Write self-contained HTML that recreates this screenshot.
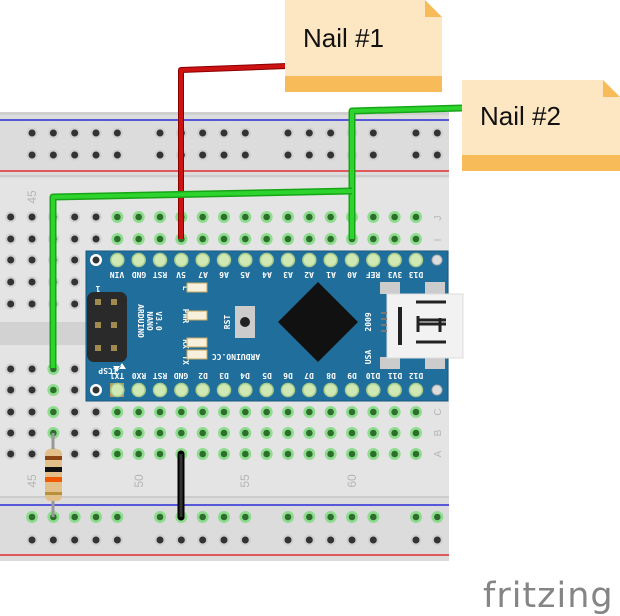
<!DOCTYPE html>
<html><head><meta charset="utf-8"><style>
html,body{margin:0;padding:0;background:#fff;width:620px;height:616px;overflow:hidden}
svg{display:block}
.pl{font-family:"DejaVu Sans Mono","Liberation Mono",monospace;font-size:8px;fill:#fff;font-weight:bold}
</style></head><body>
<svg id="s" width="620" height="616" viewBox="0 0 620 616" xmlns="http://www.w3.org/2000/svg">
<rect x="0" y="112" width="449" height="449" fill="#dcdcdc"/>
<rect x="0" y="112" width="449" height="3" fill="#cfcfcf"/>
<line x1="0" y1="120" x2="449" y2="120" stroke="#2b2bd8" stroke-width="1.5"/>
<line x1="0" y1="171" x2="449" y2="171" stroke="#e03030" stroke-width="1.5"/>
<line x1="0" y1="176" x2="449" y2="176" stroke="#bdbdbd" stroke-width="1"/>
<rect x="0" y="178" width="449" height="318" fill="#e4e4e4"/>
<rect x="0" y="322" width="449" height="23" fill="#d2d2d2"/>
<line x1="0" y1="497" x2="449" y2="497" stroke="#bdbdbd" stroke-width="1"/>
<line x1="0" y1="505" x2="449" y2="505" stroke="#2b2bd8" stroke-width="1.5"/>
<line x1="0" y1="555" x2="449" y2="555" stroke="#e03030" stroke-width="1.5"/>
<g id="holes"></g>
<g font-family="Liberation Sans,sans-serif" font-size="12" fill="#b5b5b5">
<text transform="translate(36,197) rotate(-90)" text-anchor="middle">45</text>
<text transform="translate(36,481) rotate(-90)" text-anchor="middle">45</text>
<text transform="translate(143,481) rotate(-90)" text-anchor="middle">50</text>
<text transform="translate(249,481) rotate(-90)" text-anchor="middle">55</text>
<text transform="translate(356,481) rotate(-90)" text-anchor="middle">60</text>
<text transform="translate(441,218) rotate(-90)" text-anchor="middle" font-size="10">J</text>
<text transform="translate(441,240) rotate(-90)" text-anchor="middle" font-size="10">I</text>
<text transform="translate(441,412) rotate(-90)" text-anchor="middle" font-size="10">C</text>
<text transform="translate(441,433) rotate(-90)" text-anchor="middle" font-size="10">B</text>
<text transform="translate(441,454) rotate(-90)" text-anchor="middle" font-size="10">A</text>
</g>
<rect x="86" y="251" width="362" height="150" fill="#1f6e9c"/>
<rect x="86" y="251" width="362" height="150" fill="none" stroke="#18597f" stroke-width="1"/>
<circle cx="96" cy="260" r="6" fill="#fff"/><circle cx="96" cy="260" r="3.5" fill="#333"/>
<circle cx="96" cy="390" r="6" fill="#fff"/><circle cx="96" cy="390" r="3.5" fill="#333"/>
<circle cx="437" cy="260" r="5" fill="#ddd" stroke="#aaa"/>
<circle cx="437" cy="390" r="5" fill="#ddd" stroke="#aaa"/>
<rect x="110" y="383" width="14" height="14" fill="#b59a60"/>
<g id="pins"></g>
<g class="pl" text-anchor="middle">
<g transform="rotate(180 117 275)"><text x="117" y="278">VIN</text></g>
<g transform="rotate(180 139 275)"><text x="139" y="278">GND</text></g>
<g transform="rotate(180 160 275)"><text x="160" y="278">RST</text></g>
<g transform="rotate(180 181 275)"><text x="181" y="278">5V</text></g>
<g transform="rotate(180 203 275)"><text x="203" y="278">A7</text></g>
<g transform="rotate(180 224 275)"><text x="224" y="278">A6</text></g>
<g transform="rotate(180 245 275)"><text x="245" y="278">A5</text></g>
<g transform="rotate(180 267 275)"><text x="267" y="278">A4</text></g>
<g transform="rotate(180 288 275)"><text x="288" y="278">A3</text></g>
<g transform="rotate(180 309 275)"><text x="309" y="278">A2</text></g>
<g transform="rotate(180 331 275)"><text x="331" y="278">A1</text></g>
<g transform="rotate(180 352 275)"><text x="352" y="278">A0</text></g>
<g transform="rotate(180 373 275)"><text x="373" y="278">REF</text></g>
<g transform="rotate(180 395 275)"><text x="395" y="278">3V3</text></g>
<g transform="rotate(180 416 275)"><text x="416" y="278">D13</text></g>
<g transform="rotate(180 117 376)"><text x="117" y="379">TX1</text></g>
<g transform="rotate(180 139 376)"><text x="139" y="379">RX0</text></g>
<g transform="rotate(180 160 376)"><text x="160" y="379">RST</text></g>
<g transform="rotate(180 181 376)"><text x="181" y="379">GND</text></g>
<g transform="rotate(180 203 376)"><text x="203" y="379">D2</text></g>
<g transform="rotate(180 224 376)"><text x="224" y="379">D3</text></g>
<g transform="rotate(180 245 376)"><text x="245" y="379">D4</text></g>
<g transform="rotate(180 267 376)"><text x="267" y="379">D5</text></g>
<g transform="rotate(180 288 376)"><text x="288" y="379">D6</text></g>
<g transform="rotate(180 309 376)"><text x="309" y="379">D7</text></g>
<g transform="rotate(180 331 376)"><text x="331" y="379">D8</text></g>
<g transform="rotate(180 352 376)"><text x="352" y="379">D9</text></g>
<g transform="rotate(180 373 376)"><text x="373" y="379">D10</text></g>
<g transform="rotate(180 395 376)"><text x="395" y="379">D11</text></g>
<g transform="rotate(180 416 376)"><text x="416" y="379">D12</text></g>
</g>
<rect x="87" y="292" width="40" height="70" rx="7" fill="#2a2a2a"/>
<g fill="#a08a50"><rect x="95" y="299" width="6" height="6"/><rect x="111" y="299" width="6" height="6"/><rect x="95" y="322" width="6" height="6"/><rect x="111" y="322" width="6" height="6"/><rect x="95" y="345" width="6" height="6"/><rect x="111" y="345" width="6" height="6"/></g>
<g class="pl" font-size="8">
<text transform="translate(138,321) rotate(90)" text-anchor="middle">ARDUINO</text>
<text transform="translate(147,321) rotate(90)" text-anchor="middle">NANO</text>
<text transform="translate(156,321) rotate(90)" text-anchor="middle">V3.0</text>
<text transform="translate(108,368) rotate(180)" text-anchor="middle">ICSP</text>
<text transform="translate(98,286) rotate(180)" text-anchor="middle">1</text>
<text transform="translate(183,288) rotate(90)" text-anchor="middle">L</text>
<text transform="translate(183,316) rotate(90)" text-anchor="middle">PWR</text>
<text transform="translate(183,344) rotate(90)" text-anchor="middle">RX</text>
<text transform="translate(183,360) rotate(90)" text-anchor="middle">TX</text>
<text transform="translate(230,322) rotate(-90)" text-anchor="middle">RST</text>
<text transform="translate(236,354) rotate(180)" text-anchor="middle">ARDUINO.CC</text>
<text transform="translate(371,322) rotate(-90)" text-anchor="middle">2009</text>
<text transform="translate(371,357) rotate(-90)" text-anchor="middle">USA</text>
</g>
<path d="M118 369 l4 -6 l4 6z M113 366 l4 6 l4 -6z" fill="#fff"/>
<g fill="#f6f0dc" stroke="#c9a860" stroke-width="1"><rect x="187" y="283" width="20" height="9"/><rect x="187" y="311" width="20" height="9"/><rect x="187" y="338" width="20" height="9"/><rect x="187" y="350" width="20" height="9"/></g>
<rect x="235" y="306" width="20" height="32" fill="#ccc"/><circle cx="245" cy="322" r="5" fill="#222"/>
<polygon points="318,282 358,322 318,362 278,322" fill="#111"/>
<rect x="380" y="282" width="20" height="12" fill="#ccc"/><rect x="425" y="282" width="20" height="12" fill="#ccc"/>
<rect x="380" y="357" width="20" height="12" fill="#ccc"/><rect x="425" y="357" width="20" height="12" fill="#ccc"/>
<rect x="387" y="294" width="76" height="64" fill="#f2f2f2" stroke="#ddd"/>
<rect x="398" y="307" width="4" height="38" fill="#222"/>
<path d="M416 302 h30 M416 342 h30 M418 320 h28 M418 324 h28 M418 316 v16 M440 318 v14" stroke="#222" stroke-width="3" fill="none"/>
<g fill="#777"><rect x="381" y="312" width="6" height="2"/><rect x="381" y="318" width="6" height="2"/><rect x="381" y="324" width="6" height="2"/><rect x="381" y="330" width="6" height="2"/></g>
<polyline points="181,239 181,70 287,66" fill="none" stroke="#8a0000" stroke-width="6" stroke-linejoin="round"/>
<polyline points="181,239 181,70 287,66" fill="none" stroke="#cc1212" stroke-width="4" stroke-linejoin="round"/>
<polyline points="352,239 352,111 462,108" fill="none" stroke="#17a517" stroke-width="7" stroke-linejoin="round"/>
<polyline points="352,239 352,111 462,108" fill="none" stroke="#2dd42d" stroke-width="4" stroke-linejoin="round"/>
<polyline points="53,368 53,197 352,191" fill="none" stroke="#17a517" stroke-width="7" stroke-linejoin="round"/>
<polyline points="53,368 53,197 352,191" fill="none" stroke="#2dd42d" stroke-width="4" stroke-linejoin="round"/>
<line x1="181" y1="454" x2="181" y2="517" stroke="#000" stroke-width="7" stroke-linecap="round"/>
<line x1="181" y1="454" x2="181" y2="517" stroke="#333" stroke-width="3"/>
<line x1="53" y1="433" x2="53" y2="517" stroke="#999" stroke-width="3"/>
<rect x="45" y="449" width="17" height="52" rx="5" fill="#e3c08a"/>
<rect x="45" y="456" width="17" height="4" fill="#8b4513"/>
<rect x="45" y="467" width="17" height="5" fill="#111"/>
<rect x="45" y="477" width="17" height="5" fill="#f05a00"/>
<rect x="45" y="492" width="17" height="3" fill="#b8903a"/>
<path d="M285 0 H425 L442 17 V92 H285Z" fill="#fde6c2"/>
<rect x="285" y="76" width="157" height="16" fill="#f8bb5a"/>
<path d="M425 0 L442 17 H425Z" fill="#f8bb5a"/>
<text x="303" y="47" font-family="Liberation Sans,sans-serif" font-size="26" fill="#111">Nail #1</text>
<path d="M462 80 H603 L620 97 V171 H462Z" fill="#fde6c2"/>
<rect x="462" y="155" width="158" height="16" fill="#f8bb5a"/>
<path d="M603 80 L620 97 H603Z" fill="#f8bb5a"/>
<text x="480" y="125" font-family="Liberation Sans,sans-serif" font-size="26" fill="#111">Nail #2</text>
<text x="483" y="607" font-family="DejaVu Sans,Liberation Sans,sans-serif" font-size="35" fill="#858585" letter-spacing="1">fritzing</text>
</svg>
<script>
var ns="http://www.w3.org/2000/svg",H=document.getElementById("holes"),P=document.getElementById("pins");
function c(g,x,y,r,f,st){var e=document.createElementNS(ns,"circle");e.setAttribute("cx",x);e.setAttribute("cy",y);e.setAttribute("r",r);e.setAttribute("fill",f);if(st){e.setAttribute("stroke",st);e.setAttribute("stroke-width",1.5);}g.appendChild(e);}
function hole(x,y,g){if(g){c(H,x,y,6,"#8fdc8f");c(H,x,y,3.3,"#2d6e2d");}else{c(H,x,y,5.5,"#cfcfcf");c(H,x,y,3.5,"#333");}}
function X(k){return 10.7+21.33*k;}
for(var k=0;k<21;k++){if(k%6==0)continue;var x=X(k);
 hole(x,133,0);hole(x,155,0);
 hole(x,517,1);hole(x,540,0);}
var rows=[217,239,260,282,304,369,390,412,433,454];
for(var k=0;k<20;k++){var x=X(k);for(var i=0;i<rows.length;i++){var y=rows[i];
 var g=false;
 if(k>=5&&(y<=239||y>=412))g=true;
 if(k==2&&y>=369)g=true;
 hole(x,y,g);}}
for(var k=5;k<20;k++){var x=X(k);c(P,x,260,6.5,"#cfe8b4","#a8cc8c");c(P,x,390,6.5,"#cfe8b4","#a8cc8c");}
</script>
</body></html>
